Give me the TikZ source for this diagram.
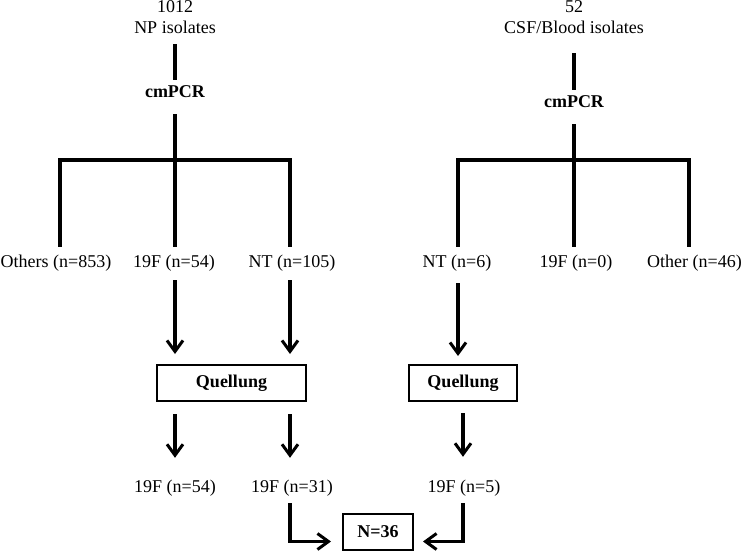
\documentclass[tikz,border=0pt]{standalone}
\usepackage{fontspec}
\setmainfont{Liberation Serif}
\usetikzlibrary{arrows.meta,calc}
\begin{document}
\begin{tikzpicture}[x=1pt,y=-1pt,
  lab/.style={inner sep=0pt,anchor=base,font=\fontsize{18}{21}\selectfont,text height=12pt,text depth=4pt},
  blab/.style={lab,font=\fontsize{18}{21}\selectfont\bfseries},
  qbox/.style={draw,line width=2pt,inner sep=0pt,font=\fontsize{18}{21}\selectfont\bfseries},
  ln/.style={line width=3.2pt},
  arr/.style={line width=3.2pt,-{Straight Barb[length=11pt,width=16pt,line width=3pt]}}]
\useasboundingbox[fill=white] (0,0) rectangle (742,551);
% ---------- left tree ----------
\node[lab] (n1012) at (175,13) {1012};
\node[lab] (npiso) at (175,34) {NP isolates};
\node[blab] (cmL) at (175,98) {cmPCR};
\coordinate (bLl) at (60,160);
\coordinate (bLm) at (175,160);
\coordinate (bLr) at (290,160);
\node[lab] (oth) at (56,267) {Others (n=853)};
\node[lab] (f54) at (174,267) {19F (n=54)};
\node[lab] (nt105) at (292,267) {NT (n=105)};
\draw[ln] ($(npiso.south)+(0,6)$) -- ($(cmL.north)+(0,-6)$);
\draw[ln] ($(cmL.south)+(0,12)$) -- (bLm);
\draw[ln] ($(bLl |- oth.north)+(0,-8)$) -- (bLl) -- (bLr) -- ($(bLr |- nt105.north)+(0,-8)$);
\draw[ln] (bLm) -- ($(bLm |- f54.north)+(0,-8)$);
\node[qbox,minimum width=149pt,minimum height=36pt] (qL) at (231.5,383) {Quellung};
\draw[arr] ($(bLm |- f54.south)+(0,9)$) -- ($(bLm |- qL.north)+(0,-10)$);
\draw[arr] ($(bLr |- nt105.south)+(0,9)$) -- ($(bLr |- qL.north)+(0,-10)$);
\node[lab] (r54) at (175,492) {19F (n=54)};
\node[lab] (r31) at (292,492) {19F (n=31)};
\draw[arr] ($(bLm |- qL.south)+(0,12)$) -- ($(bLm |- r54.north)+(0,-22)$);
\draw[arr] ($(bLr |- qL.south)+(0,12)$) -- ($(bLr |- r31.north)+(0,-22)$);
% ---------- right tree ----------
\node[lab] (n52) at (574,13) {52};
\node[lab] (csf) at (574,34) {CSF/Blood isolates};
\node[blab] (cmR) at (574,107) {cmPCR};
\coordinate (bRl) at (458,160);
\coordinate (bRm) at (574,160);
\coordinate (bRr) at (689,160);
\node[lab] (nt6) at (457,267) {NT (n=6)};
\node[lab] (f0) at (576,267) {19F (n=0)};
\node[lab] (oth46) at (694.5,267) {Other (n=46)};
\draw[ln] ($(csf.south)+(0,15)$) -- ($(cmR.north)+(0,-5)$);
\draw[ln] ($(cmR.south)+(0,13)$) -- (bRm);
\draw[ln] ($(bRl |- nt6.north)+(0,-8)$) -- (bRl) -- (bRr) -- ($(bRr |- oth46.north)+(0,-8)$);
\draw[ln] (bRm) -- ($(bRm |- f0.north)+(0,-8)$);
\node[qbox,minimum width=108pt,minimum height=36pt] (qR) at (463,383) {Quellung};
\draw[arr] ($(bRl |- nt6.south)+(0,12)$) -- ($(bRl |- qR.north)+(0,-8)$);
\node[lab] (r5) at (464,492) {19F (n=5)};
\draw[arr] ($(qR.south)+(0,11)$) -- ($(qR.south |- r5.north)+(0,-23)$);
% ---------- final ----------
\node[qbox,minimum width=70pt,minimum height=36pt] (fin) at (378,531.5) {N=36};
\draw[arr] ($(r31.south)+(-2,7)$) |- ($(fin.west)+(-11,10)$);
\draw[arr] ($(r5.south)+(-1,7)$) |- ($(fin.east)+(9,10)$);
\end{tikzpicture}
\end{document}
